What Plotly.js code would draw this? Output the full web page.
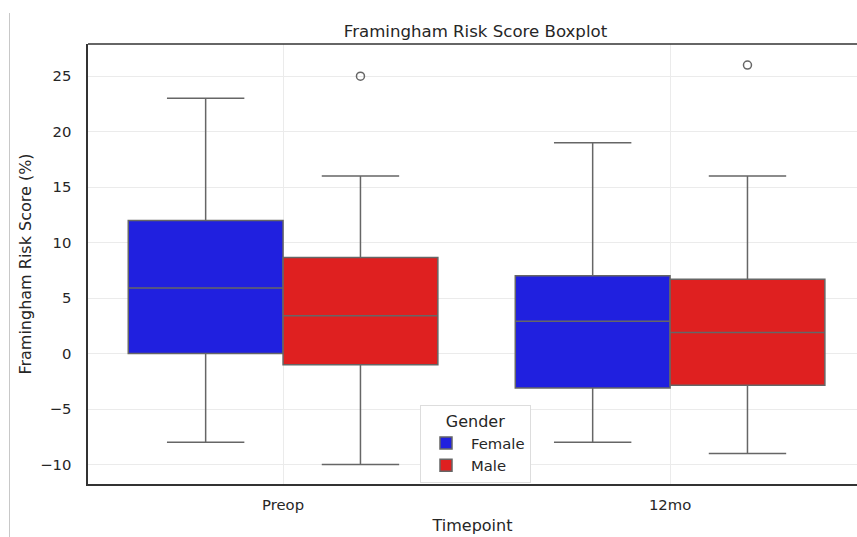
<!DOCTYPE html>
<html>
<head>
<meta charset="utf-8">
<script src="https://cdn.plot.ly/plotly-3.0.1.min.js"></script>
<style>
  html, body { margin: 0; padding: 0; background: #fff; }
  #chart { width: 857px; height: 537px; }
</style>
</head>
<body>
<div id="chart"></div>
<script>
// ---- Data ----
const timepoints = ["Preop", "12mo"];
const genders = ["Female", "Male"];

const femaleQ1 = [0, -3.1];
const femaleMedian = [5.9, 2.9];
const femaleQ3 = [12, 7];
const femaleLow = [-8, -8];
const femaleHigh = [23, 19];

const maleQ1 = [-1, -2.85];
const maleMedian = [3.4, 1.9];
const maleQ3 = [8.65, 6.7];
const maleLow = [-10, -9];
const maleHigh = [16, 16];

const maleOutliers = [25, 26];

const yTicks = [-10, -5, 0, 5, 10, 15, 20, 25];

// ---- Styling ----
const colors = { Female: "#2020df", Male: "#df2020" };
const lineColor = "#666666";
const textColor = "#262626";
const font = "DejaVu Sans, sans-serif";

const positions = timepoints.map((_, i) => i);
const hueOffset = { Female: -0.2, Male: 0.2 };

function boxTrace(name, q1, med, q3, lo, hi) {
  return {
    type: "box",
    name: name,
    x: positions,
    q1: q1, median: med, q3: q3,
    lowerfence: lo, upperfence: hi,
    boxpoints: false,
    fillcolor: colors[name],
    line: { color: lineColor, width: 1.5 },
    whiskerwidth: 0.5,
    offsetgroup: name,
    hoverinfo: "skip"
  };
}

const traces = [
  boxTrace("Female", femaleQ1, femaleMedian, femaleQ3, femaleLow, femaleHigh),
  boxTrace("Male", maleQ1, maleMedian, maleQ3, maleLow, maleHigh),
  {
    type: "scatter",
    mode: "markers",
    x: positions.map(p => p + hueOffset.Male),
    y: maleOutliers,
    marker: { symbol: "circle-open", size: 8, color: lineColor, line: { width: 1.5, color: lineColor } },
    showlegend: false,
    hoverinfo: "skip"
  }
];

const layout = {
  width: 857,
  height: 537,
  margin: { l: 88, r: 0, t: 44, b: 53 },
  paper_bgcolor: "#ffffff",
  plot_bgcolor: "#ffffff",
  font: { family: font, color: textColor, size: 14.8 },
  title: {
    text: "Framingham Risk Score Boxplot",
    font: { family: font, size: 16.6, color: textColor },
    xref: "container", x: 475.5 / 857, xanchor: "center",
    yref: "container", y: 1 - 31 / 537, yanchor: "middle"
  },
  boxmode: "group",
  boxgap: 0.2,
  boxgroupgap: 0,
  xaxis: {
    range: [-0.504, 1.483],
    tickmode: "array",
    tickvals: positions,
    ticktext: timepoints,
    showgrid: true,
    gridcolor: "#ebebeb",
    gridwidth: 1,
    zeroline: false,
    showline: true,
    linecolor: "#333333",
    linewidth: 1.6,
    ticks: "outside",
    ticklen: 7,
    tickcolor: "rgba(0,0,0,0)",
    tickfont: { size: 14.8, color: textColor },
    title: { text: "Timepoint", font: { size: 16, color: textColor }, standoff: 7 },
    fixedrange: true
  },
  yaxis: {
    range: [-11.76, 27.9],
    tickmode: "array",
    tickvals: yTicks,
    ticktext: yTicks.map(v => v < 0 ? "\u2212" + Math.abs(v) : String(v)),
    showgrid: true,
    gridcolor: "#ebebeb",
    gridwidth: 1,
    zeroline: false,
    showline: true,
    linecolor: "#333333",
    linewidth: 1.6,
    ticks: "outside",
    ticklen: 12,
    tickcolor: "rgba(0,0,0,0)",
    tickfont: { size: 14.8, color: textColor },
    title: { text: "Framingham Risk Score (%)", font: { size: 16, color: textColor }, standoff: 4 },
    fixedrange: true
  },
  legend: {
    x: (420 - 88) / 769,
    y: (484 - 405) / 440,
    xanchor: "left",
    yanchor: "top",
    bgcolor: "#ffffff",
    bordercolor: "#dddddd",
    borderwidth: 1,
    itemwidth: 40,
    font: { size: 14.8, color: textColor },
    title: { text: "Gender", side: "top center", font: { size: 16, color: textColor } },
    tracegroupgap: 0
  },
  shapes: [
    { type: "line", xref: "paper", yref: "paper", x0: 0, x1: 1, y0: 1, y1: 1,
      line: { color: "#333333", width: 1.6 } },
    { type: "line", xref: "paper", yref: "paper",
      x0: (9.5 - 88) / 769, x1: (9.5 - 88) / 769,
      y0: (484 - 13) / 440, y1: (484 - 537) / 440,
      line: { color: "#c8c8c8", width: 1 } }
  ],
  showlegend: true
};

Plotly.newPlot("chart", traces, layout, { staticPlot: true, displayModeBar: false });
</script>
</body>
</html>
